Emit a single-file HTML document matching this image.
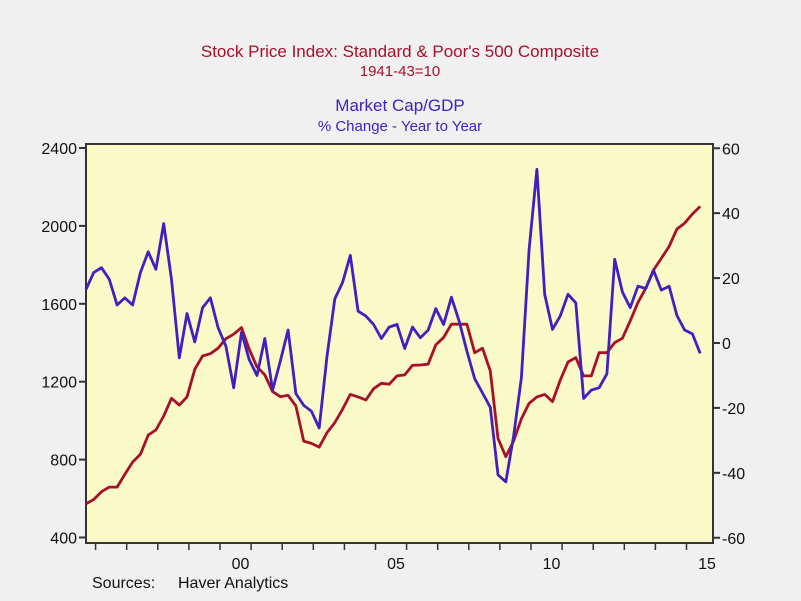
<!DOCTYPE html>
<html><head><meta charset="utf-8"><style>
body{margin:0;background:#f0f0f0;}
svg{display:block;font-family:"Liberation Sans",sans-serif;}
</style></head><body>
<svg id="chart" width="801" height="601" viewBox="0 0 801 601">
<rect x="0" y="0" width="801" height="601" fill="#f0f0f0"/>
<text x="400" y="57" text-anchor="middle" font-size="17" fill="#a8102a">Stock Price Index: Standard &amp; Poor's 500 Composite</text>
<text x="400" y="76" text-anchor="middle" font-size="15" fill="#a8102a">1941-43=10</text>
<text x="400" y="111" text-anchor="middle" font-size="17" fill="#4020c0">Market Cap/GDP</text>
<text x="400" y="131" text-anchor="middle" font-size="15" fill="#4020c0">% Change - Year to Year</text>
<rect x="86" y="144" width="627" height="399" fill="#fafac8" stroke="#333" stroke-width="2"/>
<g id="axes"></g>
<g id="series"></g>
<text x="92" y="588" font-size="16" fill="#111">Sources:</text>
<text x="178" y="588" font-size="16" fill="#111">Haver Analytics</text>
</svg>
<script>
const leftTicks=[400,800,1200,1600,2000,2400];
const rightTicks=[-60,-40,-20,0,20,40,60];
const xLabels=["00","05","10","15"];
const xLabelYears=[2000,2005,2010,2015];
const spx=[573,595,635,659,659,724,787,827,926,952,1024,1115,1080,1122,1264,1332,1344,1372,1421,1444,1478,1367,1276,1235,1149,1123,1130,1075,895,883,864,938,990,1058,1135,1122,1106,1164,1192,1187,1230,1235,1284,1286,1290,1389,1427,1495,1495,1495,1349,1372,1255,909,815,895,1010,1089,1122,1135,1098,1207,1301,1324,1230,1230,1349,1349,1401,1423,1512,1607,1680,1773,1833,1894,1984,2014,2061,2100];
const mcap=[16.5,21.7,23.2,19.6,11.7,13.9,11.7,21.7,28.1,22.7,36.8,19.6,-4.6,9.1,0.3,10.9,13.9,4.7,-1.0,-13.8,3.3,-5.1,-10.0,1.4,-14.5,-5.6,4.0,-15.6,-19.2,-21.0,-26.2,-4.1,13.6,18.6,27.0,9.8,8.3,5.7,1.4,4.9,5.7,-1.7,4.9,1.6,3.9,10.6,5.7,14.1,6.7,-2.5,-11.0,-15.4,-19.8,-40.6,-42.8,-28.7,-10.7,28.8,53.5,15.0,4.2,8.3,15.0,12.4,-17.1,-14.5,-13.8,-9.5,25.8,15.7,10.9,17.5,16.8,22.4,16.3,17.5,8.5,4.0,2.8,-3.2];
const startYear=1995.69, stepYear=0.25;
const NS='http://www.w3.org/2000/svg';
const yL=v=>537.5-(v-400)*(389.5/2000);
const yR=v=>343-v*(389.5/120);
const xT=t=>220+(t-2000)*31.1;
const xI=i=>xT(startYear+i*stepYear);
function mk(tag,attrs,parent){const e=document.createElementNS(NS,tag);for(const k in attrs)e.setAttribute(k,attrs[k]);parent.appendChild(e);return e;}
const ax=document.getElementById('axes');
leftTicks.forEach(v=>{const y=yL(v);
 const l=mk('line',{x1:79,x2:86,y1:y,y2:y,stroke:'#333','stroke-width':2},ax);
 
 
 const t=mk('text',{x:77,y:y+6,'text-anchor':'end','font-size':16,fill:'#111'},ax);t.textContent=v;
 
 
});
rightTicks.forEach(v=>{const y=yR(v);
 const l=mk('line',{x1:713,x2:720,y1:y,y2:y,stroke:'#333','stroke-width':2},ax);
 
 
 const t=mk('text',{x:722,y:y+6,'text-anchor':'start','font-size':16,fill:'#111'},ax);t.textContent=v;
 
 
});
for(let yr=1996;yr<=2015;yr++){const x=xT(yr);
 const l=mk('line',{x1:x,x2:x,y1:543,y2:550,stroke:'#333','stroke-width':1.5},ax);
 
 
}
xLabels.forEach((s,i)=>{const t=mk('text',{x:xT(xLabelYears[i])+20.5,y:569,'text-anchor':'middle','font-size':16,fill:'#111'},ax);t.textContent=s;
 
 
});
const sg=document.getElementById('series');
const p1=mk('polyline',{points:spx.map((v,i)=>xI(i).toFixed(1)+','+yL(v).toFixed(1)).join(' '),fill:'none',stroke:'#a8102a','stroke-width':2.8,'stroke-linejoin':'round'},sg);


const p2=mk('polyline',{points:mcap.map((v,i)=>xI(i).toFixed(1)+','+yR(v).toFixed(1)).join(' '),fill:'none',stroke:'#4020c0','stroke-width':2.8,'stroke-linejoin':'round'},sg);


</script>
</body></html>
